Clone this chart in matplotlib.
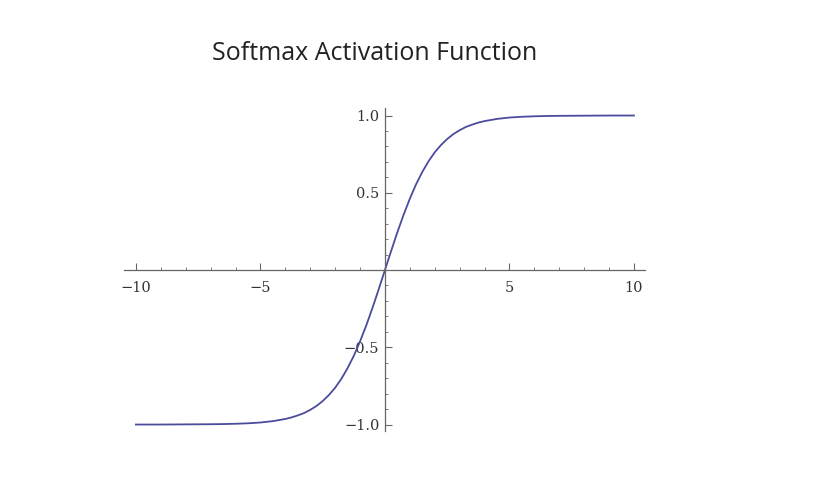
import matplotlib.pyplot as plt
from matplotlib.ticker import MultipleLocator

# values
x = [-10, -9, -8, -7, -6.5, -6, -5.5, -5, -4.5, -4, -3.75, -3.5, -3.25, -3,
     -2.75, -2.5, -2.25, -2, -1.75, -1.5, -1.25, -1, -0.75, -0.5, -0.25, 0,
     0.25, 0.5, 0.75, 1, 1.25, 1.5, 1.75, 2, 2.25, 2.5, 2.75, 3, 3.25, 3.5,
     3.75, 4, 4.5, 5, 5.5, 6, 6.5, 7, 8, 9, 10]
y = [-1.0, -1.0, -0.999, -0.998, -0.997, -0.995, -0.992, -0.987, -0.978, -0.964,
     -0.954, -0.941, -0.926, -0.905, -0.880, -0.848, -0.809, -0.762, -0.704,
     -0.635, -0.555, -0.462, -0.358, -0.245, -0.124, 0.0,
     0.124, 0.245, 0.358, 0.462, 0.555, 0.635, 0.704, 0.762, 0.809, 0.848,
     0.880, 0.905, 0.926, 0.941, 0.954, 0.964, 0.978, 0.987, 0.992, 0.995,
     0.997, 0.998, 0.999, 1.0, 1.0]

x_ticks = [-10, -5, 5, 10]
y_ticks = [-1.0, -0.5, 0.5, 1.0]

fig = plt.figure(figsize=(8.14, 4.88), dpi=100)
ax = fig.add_axes([0.1523, 0.1174, 0.640, 0.6617])

ax.plot(x, y, color='#4b4b9c', lw=1.3)

ax.set_xlim(-10.48, 10.44)
ax.set_ylim(-1.04, 1.05)

# axes through the origin
for s in ['top', 'right']:
    ax.spines[s].set_visible(False)
ax.spines['left'].set_position(('data', 0))
ax.spines['bottom'].set_position(('data', 0))
for s in ['left', 'bottom']:
    ax.spines[s].set_color('#666666')
    ax.spines[s].set_linewidth(0.9)

ax.set_xticks(x_ticks)
ax.set_yticks(y_ticks)
ax.set_xticklabels(['\u221210', '\u22125', '5', '10'])
ax.set_yticklabels(['\u22121.0', '\u22120.5', '0.5', '1.0'])
ax.xaxis.set_minor_locator(MultipleLocator(1))
ax.yaxis.set_minor_locator(MultipleLocator(0.1))
ax.tick_params(which='major', direction='in', length=5, width=0.8,
               color='#666666', labelsize=10.5, labelcolor='#333333')
ax.tick_params(which='minor', direction='in', length=2.5, width=0.6,
               color='#666666')
ax.tick_params(axis='x', pad=8)
ax.tick_params(axis='y', pad=4)
for lab in ax.get_xticklabels() + ax.get_yticklabels():
    lab.set_family('DejaVu Serif')

fig.text(375 / 814, 1 - 53 / 488, 'Softmax Activation Function',
         ha='center', va='center', fontsize=18, color='#222222',
         family='Open Sans')

fig.savefig('out.png', dpi=100)
